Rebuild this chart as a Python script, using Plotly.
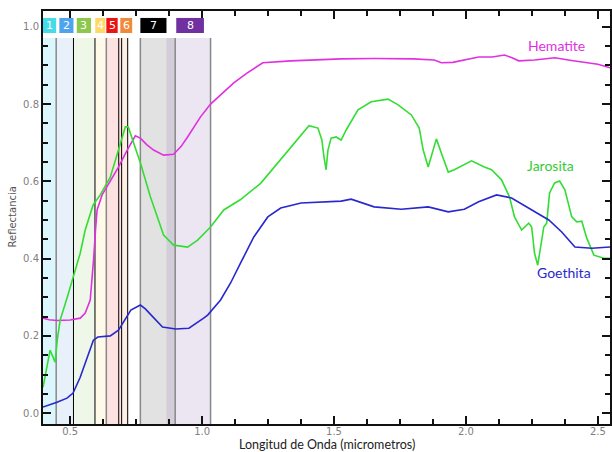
import plotly.graph_objects as go

# ---------------- data ----------------
hem_wl = [0.397, 0.42, 0.45, 0.50, 0.538, 0.557, 0.576, 0.585, 0.589, 0.596, 0.602, 0.621,
          0.652, 0.683, 0.716, 0.747, 0.766, 0.79, 0.816, 0.854, 0.892, 0.92, 0.945, 0.994,
          1.032, 1.08, 1.12, 1.17, 1.23, 1.337, 1.45, 1.527, 1.65, 1.80, 1.88, 1.907, 1.95,
          2.048, 2.10, 2.146, 2.175, 2.20, 2.26, 2.337, 2.40, 2.439, 2.50, 2.546]
hem_r = [0.246, 0.242, 0.240, 0.241, 0.246, 0.259, 0.293, 0.36, 0.40, 0.474, 0.526, 0.565,
         0.600, 0.637, 0.681, 0.718, 0.712, 0.695, 0.681, 0.668, 0.670, 0.69, 0.715, 0.767,
         0.80, 0.83, 0.855, 0.88, 0.907, 0.912, 0.915, 0.917, 0.918, 0.917, 0.914, 0.907, 0.908,
         0.922, 0.922, 0.927, 0.92, 0.912, 0.914, 0.920, 0.913, 0.909, 0.903, 0.894]

goe_wl = [0.397, 0.45, 0.488, 0.511, 0.538, 0.565, 0.588, 0.605, 0.624, 0.652, 0.683, 0.73,
          0.766, 0.785, 0.80, 0.85, 0.90, 0.95, 1.006, 1.021, 1.070, 1.108, 1.146, 1.196,
          1.249, 1.298, 1.375, 1.527, 1.565, 1.652, 1.755, 1.857, 1.933, 1.994, 2.048, 2.097,
          2.116, 2.173, 2.249, 2.314, 2.363, 2.413, 2.477, 2.546]
goe_r = [0.016, 0.028, 0.039, 0.052, 0.093, 0.145, 0.189, 0.197, 0.199, 0.200, 0.215, 0.267,
         0.280, 0.270, 0.259, 0.223, 0.218, 0.220, 0.246, 0.254, 0.293, 0.337, 0.389, 0.456,
         0.508, 0.531, 0.544, 0.549, 0.554, 0.534, 0.528, 0.534, 0.521, 0.528, 0.547, 0.560,
         0.565, 0.557, 0.526, 0.500, 0.469, 0.430, 0.427, 0.430]

jar_wl = [0.397, 0.413, 0.424, 0.435, 0.443, 0.451, 0.462, 0.489, 0.511, 0.538, 0.557, 0.565,
          0.587, 0.614, 0.652, 0.683, 0.709, 0.720, 0.740, 0.766, 0.804, 0.854, 0.892, 0.945,
          0.983, 1.032, 1.082, 1.146, 1.222, 1.287, 1.337, 1.375, 1.405, 1.439, 1.454, 1.462,
          1.470, 1.477, 1.489, 1.508, 1.527, 1.546, 1.591, 1.641, 1.705, 1.743, 1.793, 1.823,
          1.838, 1.857, 1.876, 1.888, 1.907, 1.933, 1.956, 2.021, 2.070, 2.097, 2.135, 2.165,
          2.184, 2.211, 2.238, 2.249, 2.260, 2.272, 2.283, 2.295, 2.306, 2.317, 2.336, 2.355,
          2.375, 2.401, 2.420, 2.439, 2.458, 2.485, 2.523, 2.546]
jar_r = [0.067, 0.13, 0.163, 0.145, 0.132, 0.189, 0.241, 0.300, 0.352, 0.414, 0.474, 0.492,
         0.539, 0.565, 0.611, 0.681, 0.741, 0.741, 0.702, 0.648, 0.560, 0.461, 0.435, 0.430,
         0.448, 0.482, 0.526, 0.553, 0.595, 0.648, 0.689, 0.720, 0.744, 0.738, 0.707, 0.663,
         0.630, 0.681, 0.712, 0.715, 0.707, 0.733, 0.785, 0.806, 0.813, 0.798, 0.772, 0.738,
         0.681, 0.637, 0.681, 0.710, 0.673, 0.624, 0.630, 0.653, 0.637, 0.630, 0.604, 0.560,
         0.508, 0.474, 0.492, 0.482, 0.414, 0.383, 0.430, 0.482, 0.492, 0.570, 0.596, 0.601,
         0.578, 0.508, 0.495, 0.497, 0.453, 0.409, 0.401, 0.401]

band_names = ["1", "2", "3", "4", "5", "6", "7", "8"]
band_start = [0.397, 0.447, 0.5125, 0.594, 0.637, 0.695, 0.766, 0.865]
band_end = [0.447, 0.5125, 0.594, 0.637, 0.695, 0.718, 0.898, 1.032]
band_lines = [0.5125, 0.594, 0.684, 0.695, 0.718]
band_lines_gray = [0.447, 0.637, 0.766, 0.898, 1.032]

x_ticks = [0.5, 1.0, 1.5, 2.0, 2.5]
y_ticks = [0.0, 0.2, 0.4, 0.6, 0.8, 1.0]

# ---------------- styling ----------------
band_fill = ["rgba(195,240,252,0.6)", "rgba(205,222,245,0.45)", "rgba(215,235,200,0.4)",
             "rgba(255,240,200,0.4)", "rgba(250,190,190,0.45)", "rgba(250,215,185,0.4)",
             "rgba(150,150,150,0.28)", "rgba(120,80,170,0.14)"]
box_x0 = [0.397, 0.459, 0.525, 0.595, 0.637, 0.690, 0.766, 0.902]
box_x1 = [0.447, 0.5125, 0.579, 0.633, 0.680, 0.735, 0.865, 1.007]
box_col = ["#45dbe8", "#4ea3ee", "#8cc84b", "#ffd966", "#ee1111", "#ef8a3c", "#000000", "#7030a0"]

XR = [0.397, 2.546]
YR = [-0.028, 1.041]
BAND_TOP = 0.971

fig = go.Figure()

shapes = []
for n, s, e, c in zip(band_names, band_start, band_end, band_fill):
    shapes.append(dict(type="rect", xref="x", yref="y", x0=s, x1=e, y0=YR[0], y1=BAND_TOP,
                       fillcolor=c, line=dict(width=0), layer="below"))
for v in band_lines_gray:
    shapes.append(dict(type="line", xref="x", yref="y", x0=v, x1=v, y0=YR[0], y1=BAND_TOP,
                       line=dict(color="#888888", width=1.5), layer="below"))
for v in band_lines:
    shapes.append(dict(type="line", xref="x", yref="y", x0=v, x1=v, y0=YR[0], y1=BAND_TOP,
                       line=dict(color="#000000", width=1), layer="below"))

annotations = []
for n, a, b, c in zip(band_names, box_x0, box_x1, box_col):
    shapes.append(dict(type="rect", xref="x", yref="y", x0=a, x1=b, y0=0.984, y1=1.023,
                       fillcolor=c, line=dict(width=0), layer="above"))
    annotations.append(dict(x=(a + b) / 2, y=1.0035, xref="x", yref="y", text=n,
                            showarrow=False, font=dict(color="white", size=11, family="DejaVu Sans")))

fig.add_trace(go.Scatter(x=hem_wl, y=hem_r, mode="lines", line=dict(color="#e030e0", width=1.6),
                         name="Hematite", showlegend=False))
fig.add_trace(go.Scatter(x=jar_wl, y=jar_r, mode="lines", line=dict(color="#33dd33", width=1.6),
                         name="Jarosita", showlegend=False))
fig.add_trace(go.Scatter(x=goe_wl, y=goe_r, mode="lines", line=dict(color="#2828cc", width=1.6),
                         name="Goethita", showlegend=False))

annotations += [
    dict(x=2.344, y=0.953, xref="x", yref="y", text="Hematite", showarrow=False,
         font=dict(color="#e030e0", size=14, family="Lato")),
    dict(x=2.321, y=0.640, xref="x", yref="y", text="Jarosita", showarrow=False,
         font=dict(color="#33cc33", size=14, family="Lato")),
    dict(x=2.371, y=0.363, xref="x", yref="y", text="Goethita", showarrow=False,
         font=dict(color="#2828cc", size=14, family="Lato")),
    dict(x=0.5, y=0, xref="paper", yref="paper", yshift=-20.5, text="Longitud de Onda (micrometros)",
         showarrow=False, yanchor="middle", font=dict(color="#222222", size=12.5, family="Lato")),
    dict(x=0, y=0.5, xref="paper", yref="paper", xshift=-31, text="Reflectancia", textangle=-90,
         showarrow=False, xanchor="center", font=dict(color="#555555", size=10, family="DejaVu Sans")),
]

axis_common = dict(showgrid=False, zeroline=False, showline=True, linecolor="#111111", linewidth=2,
                   ticks="inside", ticklen=8, tickwidth=1.5, tickcolor="#111111", mirror="ticks",
                   tickfont=dict(color="#808080", size=10, family="DejaVu Sans"), automargin=False)

fig.update_layout(
    width=612, height=452, margin=dict(l=43, r=2, t=11, b=28),
    paper_bgcolor="white", plot_bgcolor="white",
    shapes=shapes, annotations=annotations,
    xaxis=dict(range=XR, tickvals=x_ticks, ticktext=[f"{v:.1f}" for v in x_ticks],
               ticklabelstandoff=-3,
               minor=dict(tick0=0.5, dtick=0.125, ticks="inside", ticklen=5, tickwidth=1.5,
                          tickcolor="#111111"), **axis_common),
    yaxis=dict(range=YR, tickvals=y_ticks, ticktext=[f"{v:.1f}" for v in y_ticks],
               minor=dict(tick0=0, dtick=0.05, ticks="inside", ticklen=5, tickwidth=1.5,
                          tickcolor="#111111"), **axis_common),
    showlegend=False,
)

fig.write_html("out.html", config={"displayModeBar": False},
               post_script="document.body.style.margin='0px';document.body.style.overflow='hidden';")
